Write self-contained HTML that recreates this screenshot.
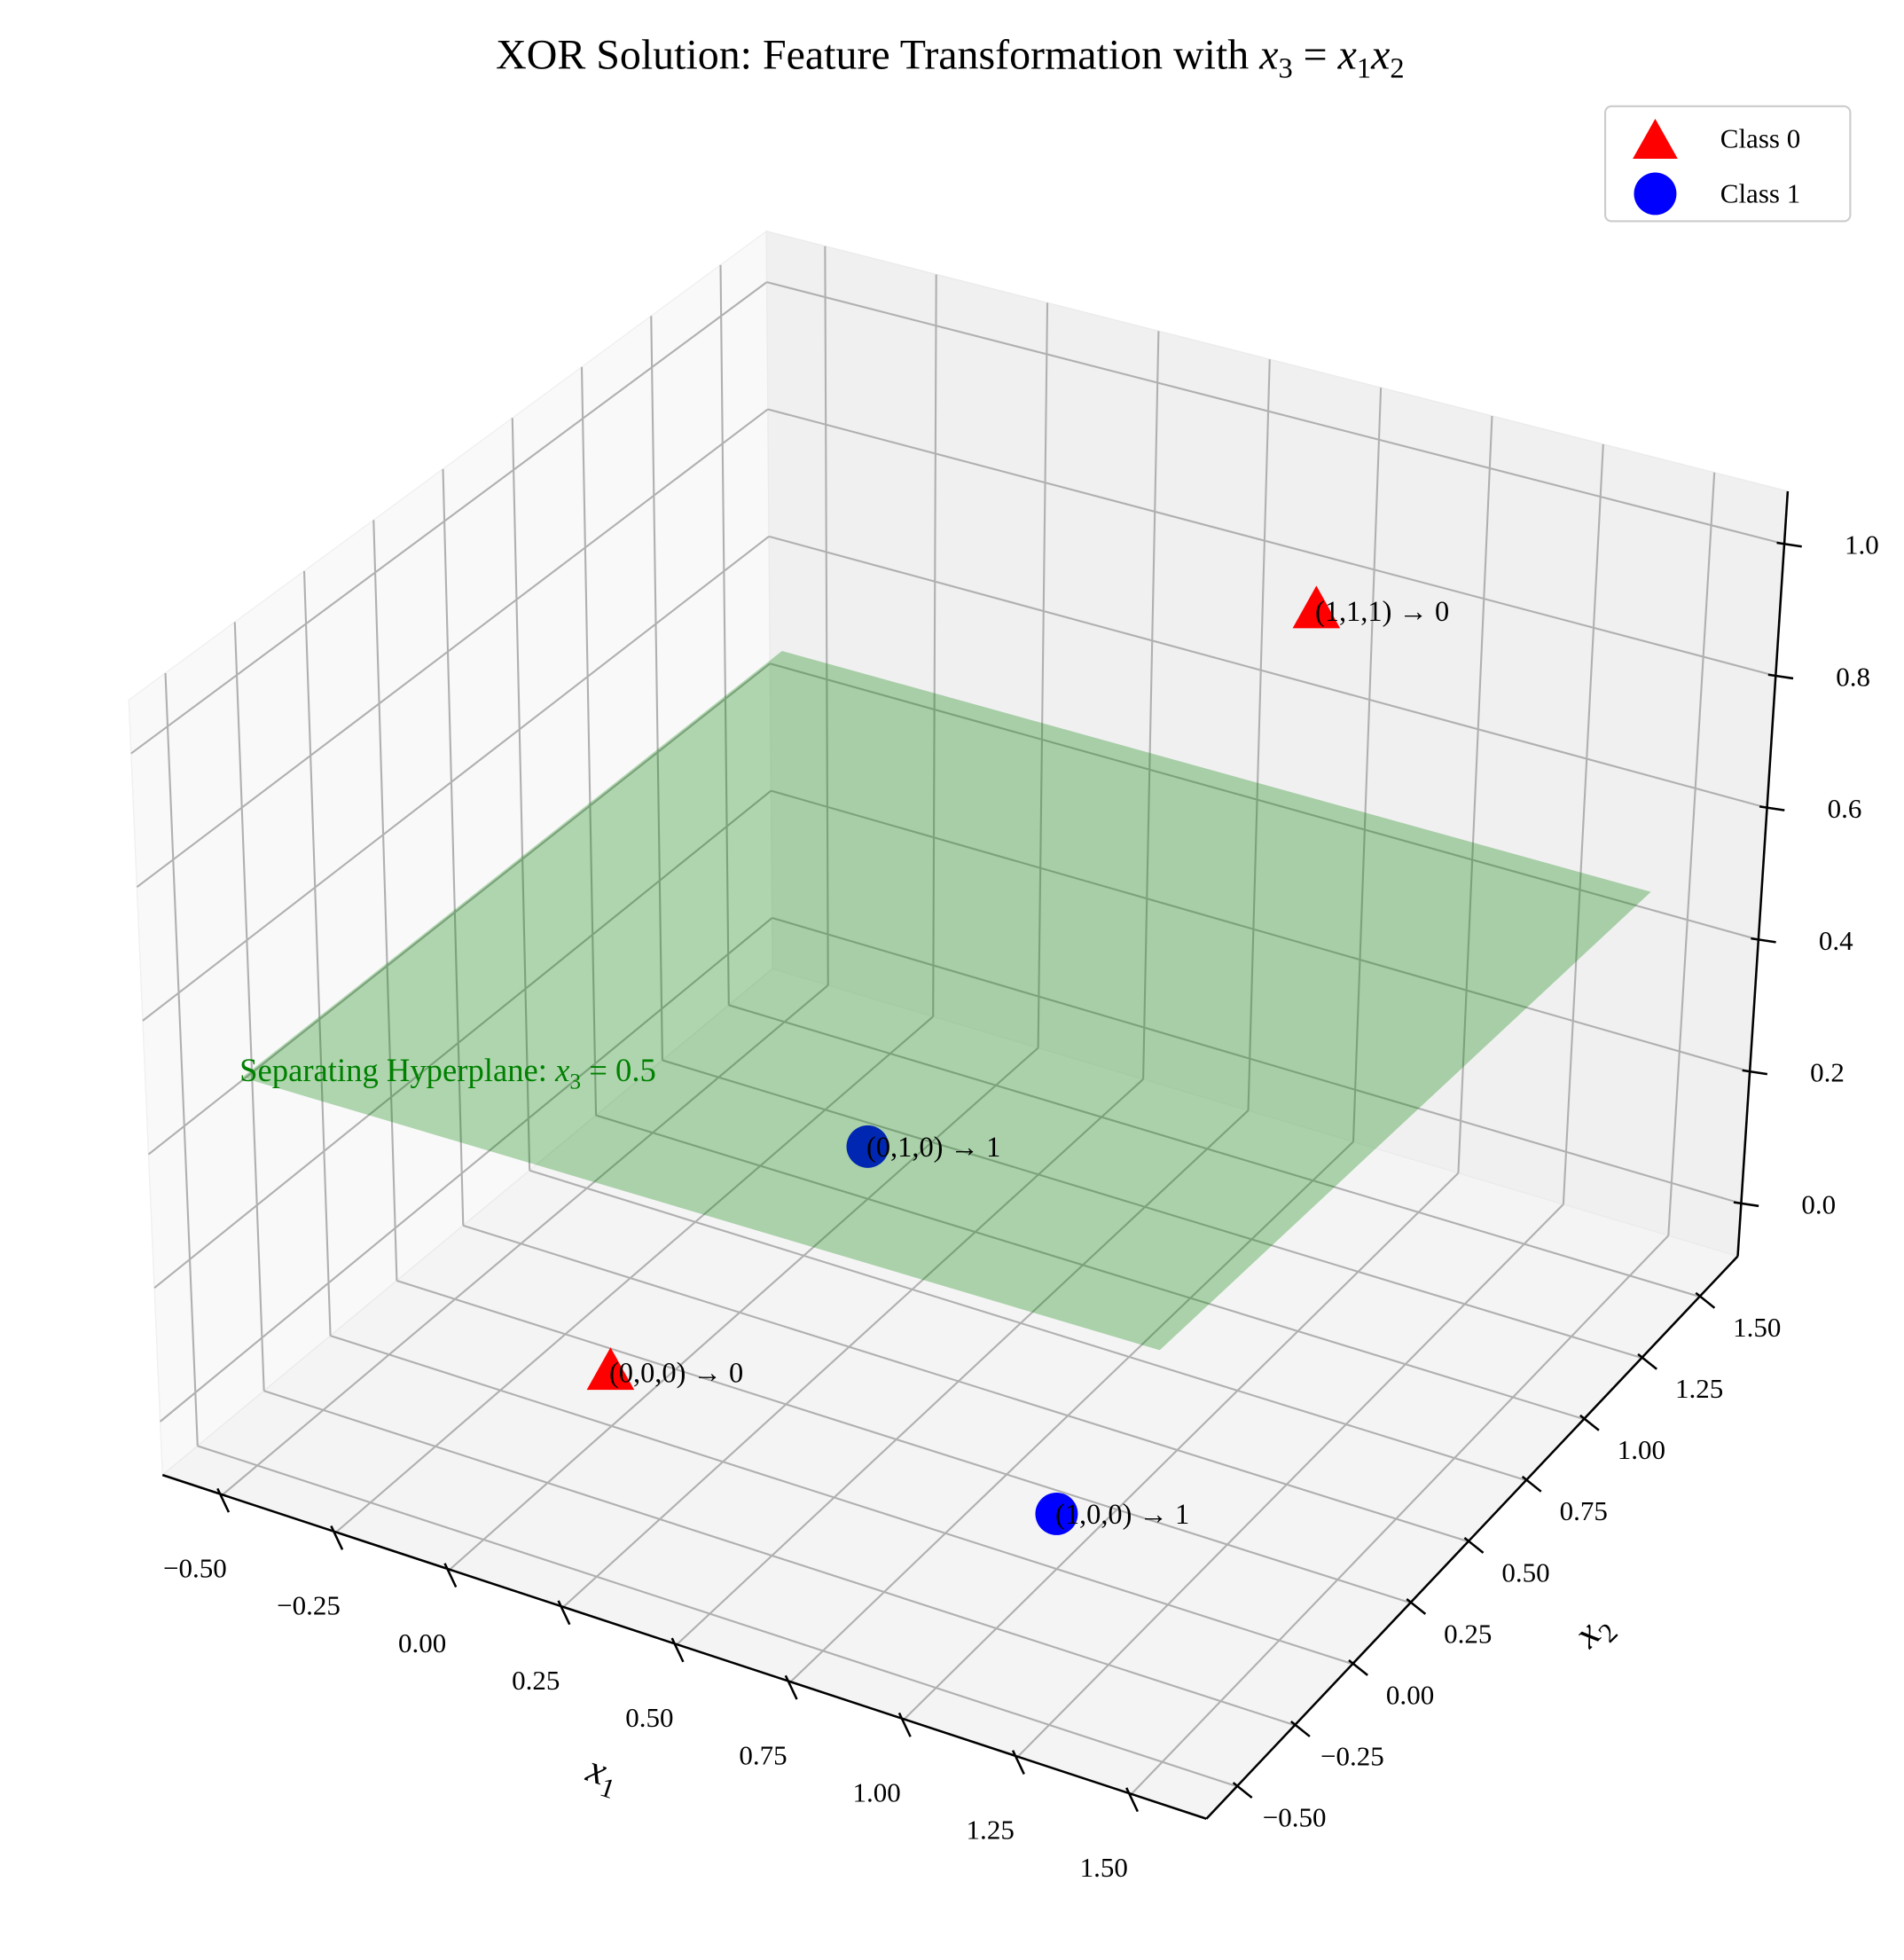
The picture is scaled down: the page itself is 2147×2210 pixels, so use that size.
<!DOCTYPE html>
<html><head><meta charset="utf-8"><style>
html,body{margin:0;padding:0;background:#fff}
svg{display:block}
text{font-family:"Liberation Serif","DejaVu Serif",serif}
</style></head><body>
<svg id="chart" width="2147" height="2210" viewBox="0 0 1523 1568" preserveAspectRatio="none" xmlns="http://www.w3.org/2000/svg">
<rect width="1523" height="1568" fill="#fff"/>
<text x="760" y="55" text-anchor="middle" font-size="34">XOR Solution: Feature Transformation with <tspan font-style="italic">x</tspan><tspan font-size="23" dy="7">3</tspan><tspan dy="-7"> = </tspan><tspan font-style="italic">x</tspan><tspan font-size="23" dy="7">1</tspan><tspan font-style="italic" dy="-7">x</tspan><tspan font-size="23" dy="7">2</tspan></text>
<g id="layer"></g>
<g>
<rect x="1284" y="85" width="196" height="92" rx="5" fill="#fff" stroke="#ccc" stroke-width="1.5"/>
<polygon points="1324,95 1342,127 1306,127" fill="#ff0000"/>
<text x="1376" y="118" font-size="22">Class 0</text>
<circle cx="1324" cy="155" r="17" fill="#0000ff"/>
<text x="1376" y="162" font-size="22">Class 1</text>
</g>
</svg>
<script>
const x1Ticks=[-0.5,-0.25,0,0.25,0.5,0.75,1,1.25,1.5];
const x1TickLabels=["\u22120.50","\u22120.25","0.00","0.25","0.50","0.75","1.00","1.25","1.50"];
const x2Ticks=[-0.5,-0.25,0,0.25,0.5,0.75,1,1.25,1.5];
const x2TickLabels=["\u22120.50","\u22120.25","0.00","0.25","0.50","0.75","1.00","1.25","1.50"];
const zTicks=[0,0.2,0.4,0.6,0.8,1.0];
const zTickLabels=["0.0","0.2","0.4","0.6","0.8","1.0"];
const ptX1=[0,1,0,1];
const ptX2=[0,1,1,0];
const ptX3=[0,1,0,0];
const ptClass=[0,0,1,1];
const ptLabels=["(0,0,0) \u2192 0","(1,1,1) \u2192 0","(0,1,0) \u2192 1","(1,0,0) \u2192 1"];
const planeZ=0.5;
const planeRange=[-0.5,1.5];

const X1=[-0.632,1.665],X2=[-0.632,1.665],Z=[-0.08,1.08];
const botF={A:[130,1180],B:[965,1455],C:[1390,1005],D:[618,775]};
const topF={A:[103,560],B:[960,790],C:[1430,393],D:[613,185]};
function bil(f,u,v){return [0,1].map(i=>f.A[i]*(1-u)*(1-v)+f.B[i]*u*(1-v)+f.C[i]*u*v+f.D[i]*(1-u)*v);}
function P(x,y,z){const u=(x-X1[0])/(X1[1]-X1[0]),v=(y-X2[0])/(X2[1]-X2[0]),w=(z-Z[0])/(Z[1]-Z[0]);
 const b=bil(botF,u,v),t=bil(topF,u,v);return [b[0]+(t[0]-b[0])*w,b[1]+(t[1]-b[1])*w];}
const NS="http://www.w3.org/2000/svg",L=document.getElementById('layer');
function el(tag,at,name){const e=document.createElementNS(NS,tag);for(const k in at)e.setAttribute(k,at[k]);
 
 
 L.appendChild(e);return e;}
function poly(pts,fill,name,extra){const a=Object.assign({points:pts.map(p=>p.join(',')).join(' '),fill:fill},extra||{});return el('polygon',a,name);}
function line(p,q,stroke,w,name){return el('line',{x1:p[0],y1:p[1],x2:q[0],y2:q[1],stroke:stroke,'stroke-width':w},name);}
poly([P(X1[0],X2[0],Z[0]),P(X1[0],X2[1],Z[0]),P(X1[0],X2[1],Z[1]),P(X1[0],X2[0],Z[1])],'#f9f9f9','left-pane',{stroke:'#f0f0f0'});
poly([P(X1[0],X2[1],Z[0]),P(X1[1],X2[1],Z[0]),P(X1[1],X2[1],Z[1]),P(X1[0],X2[1],Z[1])],'#f0f0f0','back-pane',{stroke:'#ebebeb'});
poly([P(X1[0],X2[0],Z[0]),P(X1[1],X2[0],Z[0]),P(X1[1],X2[1],Z[0]),P(X1[0],X2[1],Z[0])],'#f4f4f4','bottom-pane',{stroke:'#ebebeb'});
const G='#b0b0b0',GW=1.5;
x1Ticks.forEach(t=>{line(P(t,X2[0],Z[0]),P(t,X2[1],Z[0]),G,GW,'x1-gridline-bottom');line(P(t,X2[1],Z[0]),P(t,X2[1],Z[1]),G,GW,'x1-gridline-back');});
x2Ticks.forEach(t=>{line(P(X1[0],t,Z[0]),P(X1[1],t,Z[0]),G,GW,'x2-gridline-bottom');line(P(X1[0],t,Z[0]),P(X1[0],t,Z[1]),G,GW,'x2-gridline-left');});
zTicks.forEach(t=>{line(P(X1[0],X2[0],t),P(X1[0],X2[1],t),G,GW,'z-gridline-left');line(P(X1[0],X2[1],t),P(X1[1],X2[1],t),G,GW,'z-gridline-back');});
line(P(X1[0],X2[0],Z[0]),P(X1[1],X2[0],Z[0]),'#000',1.8,'x1-axis-line');
line(P(X1[1],X2[0],Z[0]),P(X1[1],X2[1],Z[0]),'#000',1.8,'x2-axis-line');
line(P(X1[1],X2[1],Z[0]),P(X1[1],X2[1],Z[1]),'#000',1.8,'z-axis-line');
function txt(p,s,name,extra){const t=el('text',Object.assign({x:p[0],y:p[1],'font-size':22,'text-anchor':'middle'},extra||{}),name);t.textContent=s;return t;}
x1Ticks.forEach((t,i)=>{const p=P(t,X2[0],Z[0]);line([p[0]-4,p[1]-5],[p[0]+5,p[1]+14],'#000',1.8,'x1-tick');
 txt([p[0]-22,p[1]+66],x1TickLabels[i],'x1-tick-label');});
x2Ticks.forEach((t,i)=>{const p=P(X1[1],t,Z[0]);line([p[0]-3,p[1]-3],[p[0]+12,p[1]+9],'#000',1.8,'x2-tick');
 txt([p[0]+46,p[1]+32],x2TickLabels[i],'x2-tick-label');});
zTicks.forEach((t,i)=>{const p=P(X1[1],X2[1],t);line([p[0]-6,p[1]-1],[p[0]+14,p[1]+2],'#000',1.8,'z-tick');
 txt([p[0]+62,p[1]+8],zTickLabels[i],'z-tick-label');});
{const t=el('text',{x:482,y:1428,'font-size':32,'font-style':'italic','text-anchor':'middle',transform:'rotate(18 482 1420)'},'x1-axis-title');t.innerHTML='x<tspan font-size="22" dy="8" font-style="normal">1</tspan>';}
{const t=el('text',{x:1275,y:1313,'font-size':32,'font-style':'italic','text-anchor':'middle',transform:'rotate(-45 1275 1305)'},'x2-axis-title');t.innerHTML='x<tspan font-size="22" dy="8" font-style="normal">2</tspan>';}
function marker(i){const p=P(ptX1[i],ptX2[i],ptX3[i]);
 if(ptClass[i]===0){poly([[p[0],p[1]-20],[p[0]+19,p[1]+14],[p[0]-19,p[1]+14]],'#ff0000','point-class0-'+i);}
 else el('circle',{cx:p[0],cy:p[1],r:17,fill:'#0000ff'},'point-class1-'+i);}
function plabel(i){const p=P(ptX1[i],ptX2[i],ptX3[i]);txt([p[0]-1,p[1]+8],ptLabels[i],'point-label-'+i,{'text-anchor':'start','font-size':23});}
const below=[],above=[];
ptX3.forEach((z,i)=>{ (z<planeZ && ptX2[i]>0.5)?below.push(i):above.push(i); });
below.forEach(marker);
poly([P(planeRange[0],planeRange[0],planeZ),P(planeRange[1],planeRange[0],planeZ),P(planeRange[1],planeRange[1],planeZ),P(planeRange[0],planeRange[1],planeZ)],'rgba(0,128,0,0.3)','separating-hyperplane');
above.forEach(marker);
ptX1.forEach((_,i)=>plabel(i));
{const p=P(planeRange[0],planeRange[0],planeZ);const t=el('text',{x:p[0]-2,y:p[1]+3,'font-size':26,fill:'#008000'},'hyperplane-label');
 t.innerHTML='Separating Hyperplane: <tspan font-style="italic">x</tspan><tspan font-size="18" dy="6">3</tspan><tspan dy="-6"> = 0.5</tspan>';}
</script>
</body></html>
